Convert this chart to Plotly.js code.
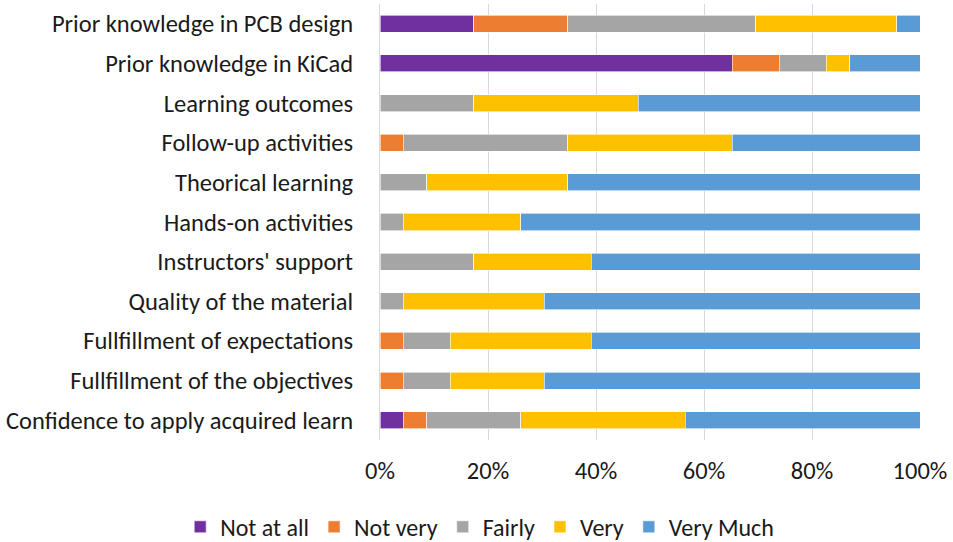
<!DOCTYPE html>
<html>
<head>
<meta charset="utf-8">
<script src="https://cdn.plot.ly/plotly-3.0.1.min.js"></script>
<style>html,body{margin:0;padding:0;background:#fff;}#chart{width:953px;height:542px;}</style>
</head>
<body>
<div id="chart"></div>
<script>
// Categories (top to bottom)
var categories = [
  "Prior knowledge in PCB design",
  "Prior knowledge in KiCad",
  "Learning outcomes",
  "Follow-up activities",
  "Theorical learning",
  "Hands-on activities",
  "Instructors' support",
  "Quality of the material",
  "Fullfillment of expectations",
  "Fullfillment of the objectives",
  "Confidence to apply acquired learn"
];
// Response counts (23 respondents), normalized to percent by the chart
var notAtAll = [4, 15, 0, 0, 0, 0, 0, 0, 0, 0, 1];
var notVery  = [4, 2, 0, 1, 0, 0, 0, 0, 1, 1, 1];
var fairly   = [8, 2, 4, 7, 2, 1, 4, 1, 2, 2, 4];
var very     = [6, 1, 7, 7, 6, 5, 5, 6, 6, 4, 7];
var veryMuch = [1, 3, 12, 8, 15, 17, 14, 16, 14, 16, 10];
var seriesNames = ["Not at all", "Not very", "Fairly", "Very", "Very Much"];
var xTickVals = [0, 20, 40, 60, 80, 100];
var xTickText = ["0%", "20%", "40%", "60%", "80%", "100%"];

var colors = ["#7030A0", "#ED7D31", "#A5A5A5", "#FFC000", "#5B9BD5"];
var seriesVals = [notAtAll, notVery, fairly, very, veryMuch];

var traces = seriesVals.map(function (vals, i) {
  return {
    type: "bar",
    orientation: "h",
    name: seriesNames[i],
    y: categories,
    x: vals,
    marker: { color: colors[i], line: { color: "#ffffff", width: 0.6 } },
    hoverinfo: "x+y+name"
  };
});

var font = "Carlito, Calibri, Lato, 'Open Sans', sans-serif";
var layout = {
  width: 953,
  height: 542,
  barmode: "stack",
  barnorm: "percent",
  bargap: 0.57,
  paper_bgcolor: "#ffffff",
  plot_bgcolor: "#ffffff",
  font: { family: font, size: 24.5, color: "#1a1a1a" },
  margin: { l: 380, r: 33, t: 4, b: 102, autoexpand: false },
  showlegend: true,
  legend: {
    orientation: "h",
    x: -0.37, xanchor: "left",
    y: -0.2, yanchor: "middle",
    traceorder: "normal",
    font: { family: font, size: 24, color: "#1a1a1a" },
    itemwidth: 30,
    tracegroupgap: 0
  },
  xaxis: {
    range: [0, 100],
    tickvals: xTickVals,
    ticktext: xTickText,
    showgrid: true,
    gridcolor: "#d9d9d9",
    gridwidth: 1,
    zeroline: false,
    showline: false,
    ticks: "",
    ticklabelstandoff: 13,
    fixedrange: true
  },
  yaxis: {
    autorange: "reversed",
    showgrid: false,
    zeroline: false,
    showline: true,
    linecolor: "#d9d9d9",
    linewidth: 1,
    ticks: "",
    ticklabelstandoff: 21,
    fixedrange: true
  }
};

Plotly.newPlot("chart", traces, layout, { displayModeBar: false, staticPlot: true });
</script>
</body>
</html>
